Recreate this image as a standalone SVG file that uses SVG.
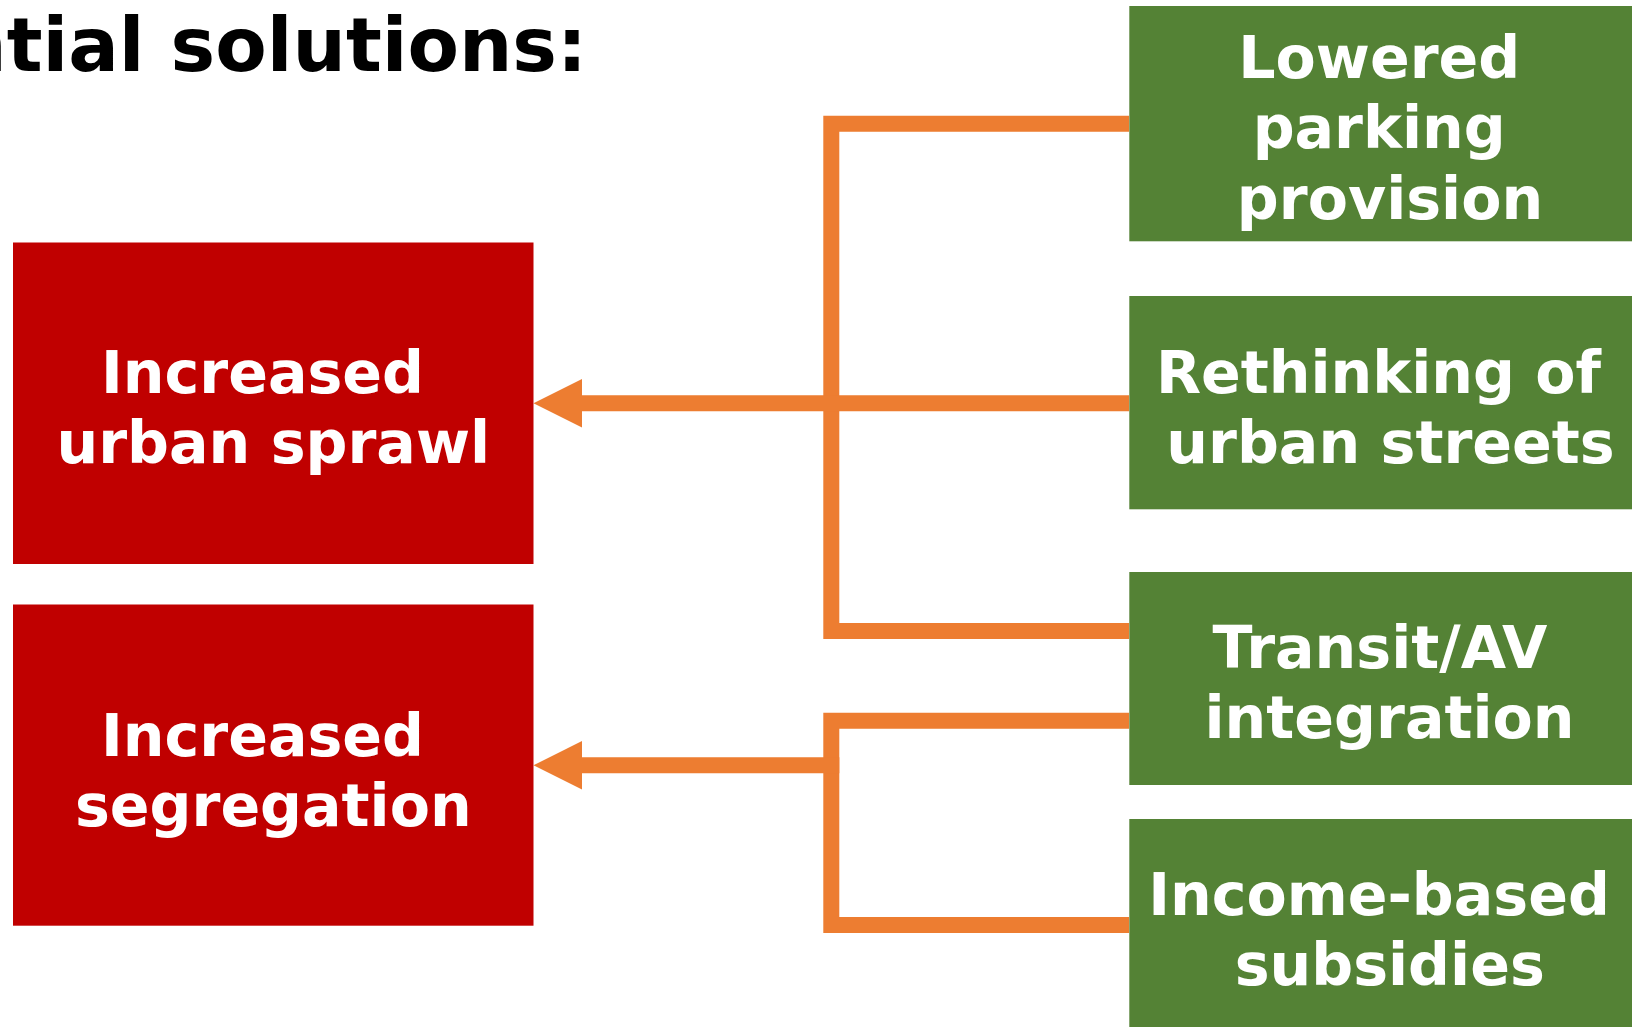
<svg xmlns="http://www.w3.org/2000/svg" width="1632" height="1027" viewBox="0 0 1632 1027">
  <style>
    .title { font-family: "DejaVu Sans", "Liberation Sans", sans-serif; font-weight: bold; font-size: 75px; fill: #000000; }
    .lbl { font-family: "DejaVu Sans", "Liberation Sans", sans-serif; font-weight: bold; font-size: 58.6px; fill: #FFFFFF; text-anchor: middle; }
    .red { fill: #C00000; }
    .green { fill: #548235; }
    .conn { fill: none; stroke: #ED7D31; stroke-width: 16; stroke-linejoin: miter; stroke-linecap: butt; }
    .head { fill: #ED7D31; }
  </style>

  <text class="title" x="587" y="71" text-anchor="end">ntial solutions:</text>

  <g id="connectors">
    <path class="conn" d="M1129,123.7 H831.3 V631 H1129"/>
    <path class="conn" d="M1129,403.3 H580"/>
    <polygon class="head" points="533.5,403.3 582,379 582,427.6"/>
    <path class="conn" d="M1129,720.7 H831.3 V925 H1129"/>
    <path class="conn" d="M839.3,765.3 H580"/>
    <polygon class="head" points="533.5,765.3 582,741 582,789.6"/>
  </g>

  <g id="node-sprawl">
    <rect class="red" x="13" y="242.5" width="520.5" height="321.5"/>
    <text class="lbl" x="262.5" y="393.4">Increased</text>
    <text class="lbl" x="273.3" y="463.4">urban sprawl</text>
  </g>

  <g id="node-segregation">
    <rect class="red" x="13" y="604.5" width="520.5" height="321.2"/>
    <text class="lbl" x="262.5" y="755.6">Increased</text>
    <text class="lbl" x="273.3" y="825.6">segregation</text>
  </g>

  <g id="node-parking">
    <rect class="green" x="1129.3" y="6" width="520" height="235.3"/>
    <text class="lbl" x="1379.2" y="77.5">Lowered</text>
    <text class="lbl" x="1379.2" y="148">parking</text>
    <text class="lbl" x="1390" y="218.5">provision</text>
  </g>

  <g id="node-streets">
    <rect class="green" x="1129.3" y="296" width="520" height="213.3"/>
    <text class="lbl" x="1378.5" y="393.4">Rethinking of</text>
    <text class="lbl" x="1390.5" y="463.4">urban streets</text>
  </g>

  <g id="node-transit">
    <rect class="green" x="1129.3" y="572" width="520" height="213"/>
    <text class="lbl" x="1380" y="668">Transit/AV</text>
    <text class="lbl" x="1389.5" y="738">integration</text>
  </g>

  <g id="node-subsidies">
    <rect class="green" x="1129.3" y="819" width="520" height="213"/>
    <text class="lbl" x="1379" y="915">Income-based</text>
    <text class="lbl" x="1389.7" y="984.5">subsidies</text>
  </g>
</svg>
